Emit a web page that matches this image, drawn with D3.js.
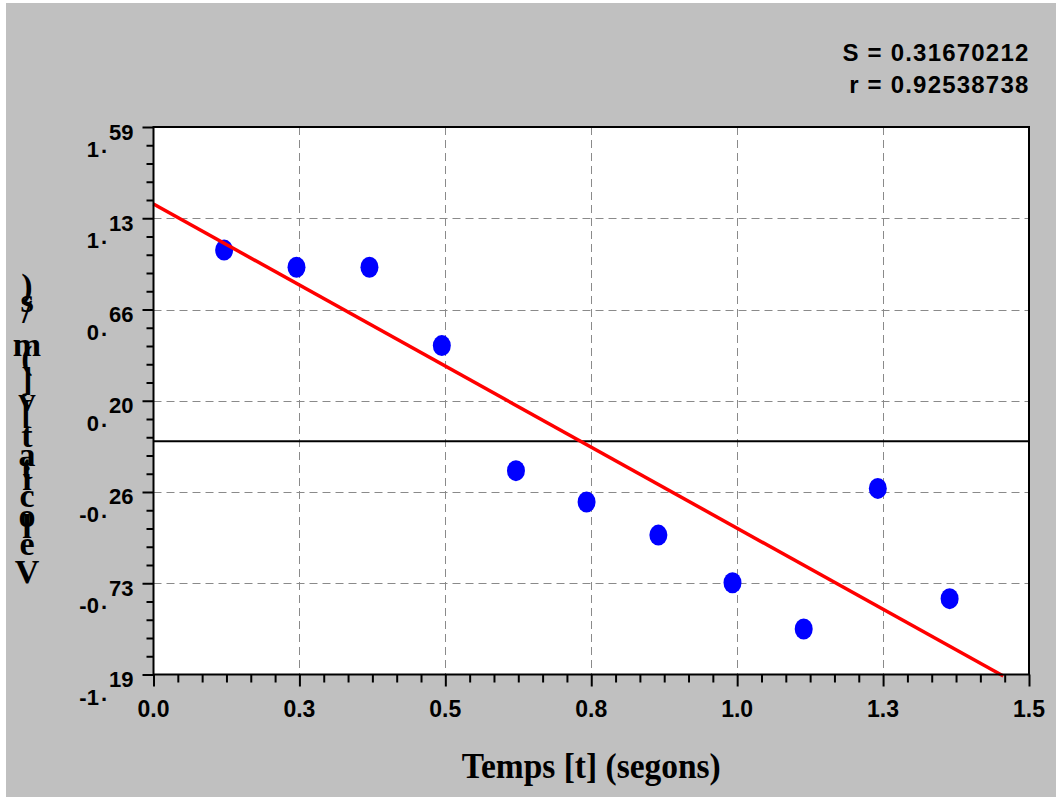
<!DOCTYPE html>
<html>
<head>
<meta charset="utf-8">
<script src="https://cdn.jsdelivr.net/npm/d3@7"></script>
<style>
  html, body { margin: 0; padding: 0; background: #ffffff; }
  svg { display: block; }
</style>
</head>
<body>
<svg id="chart" width="1056" height="797"></svg>
<script>
// ---------------- data ----------------
const xValues = [0.121, 0.245, 0.370, 0.494, 0.621, 0.742, 0.865, 0.992, 1.114, 1.241, 1.364];
const yValues = [0.965, 0.878, 0.878, 0.480, -0.155, -0.314, -0.482, -0.724, -0.959, -0.245, -0.805];
const fitX = [0, 1.456];
const fitY = [1.199, -1.198];
const xTickValues = [0, 0.25, 0.5, 0.75, 1.0, 1.25, 1.5];
const xTickLabels = ["0.0", "0.3", "0.5", "0.8", "1.0", "1.3", "1.5"];
const yTickValues = [1.59, 1.1267, 0.6633, 0.20, -0.2633, -0.7267, -1.19];
const yTickLabels = ["1.59", "1.13", "0.66", "0.20", "-0.26", "-0.73", "-1.19"];
const statsLines = ["S = 0.31670212", "r = 0.92538738"];
const xTitle = "Temps [t] (segons)";
const yTitle = "Velocitat [v] (m/s)";

// ---------------- layout ----------------
const svg = d3.select("#chart");
const L = 153.5, R = 1029, T = 127, B = 674.5;
const x = d3.scaleLinear().domain([0, 1.5]).range([L, R]);
const y = d3.scaleLinear().domain([-1.19, 1.59]).range([B, T]);

// background
svg.append("rect").attr("x", 6).attr("y", 3).attr("width", 1050).attr("height", 794).attr("fill", "#c0c0c0");
// plot area
svg.append("rect").attr("x", L).attr("y", T).attr("width", R - L).attr("height", B - T)
  .attr("fill", "#ffffff");

// grid
const grid = svg.append("g").attr("stroke", "#8a8a8a").attr("stroke-width", 1).attr("stroke-dasharray", "8,5");
grid.selectAll("line.v").data(xTickValues.slice(1, -1)).join("line")
  .attr("x1", d => Math.round(x(d)) + 0.5).attr("x2", d => Math.round(x(d)) + 0.5)
  .attr("y1", T).attr("y2", B);
grid.selectAll("line.h").data(yTickValues.slice(1, -1)).join("line")
  .attr("y1", d => Math.round(y(d)) + 0.5).attr("y2", d => Math.round(y(d)) + 0.5)
  .attr("x1", L).attr("x2", R);

// zero line
svg.append("line").attr("x1", L).attr("x2", R).attr("y1", y(0) + 1).attr("y2", y(0) + 1)
  .attr("stroke", "#000").attr("stroke-width", 2);

// points
const pts = xValues.map((v, i) => ({ x: v, y: yValues[i] }));
svg.append("g").selectAll("ellipse").data(pts).join("ellipse")
  .attr("cx", d => x(d.x)).attr("cy", d => y(d.y))
  .attr("rx", 9).attr("ry", 10.5).attr("fill", "#0000ff");

// fit line
const fit = fitX.map((v, i) => ({ x: v, y: fitY[i] }));
svg.append("path").datum(fit)
  .attr("d", d3.line().x(d => x(d.x)).y(d => y(d.y)))
  .attr("fill", "none").attr("stroke", "#ff0000").attr("stroke-width", 3.5);

// border
svg.append("rect").attr("x", L).attr("y", T).attr("width", R - L).attr("height", B - T)
  .attr("fill", "none").attr("stroke", "#000").attr("stroke-width", 2);

// minor tick values
const yMinor = [];
for (let i = 0; i < yTickValues.length - 1; i++) {
  for (let k = 1; k < 5; k++) yMinor.push(yTickValues[i] + (yTickValues[i + 1] - yTickValues[i]) * k / 5);
}
const xMinor = [];
for (let i = 0; i < xTickValues.length - 1; i++) {
  for (let k = 1; k < 6; k++) xMinor.push(xTickValues[i] + (xTickValues[i + 1] - xTickValues[i]) * k / 6);
}

function styleAxis(g) {
  g.select(".domain").remove();
  g.selectAll(".tick line").attr("stroke", "#000").attr("stroke-width", 2);
  g.selectAll(".tick text").remove();
}
svg.append("g").attr("transform", `translate(${L},0)`)
  .call(d3.axisLeft(y).tickValues(yTickValues).tickSize(11).tickFormat("")).call(styleAxis);
svg.append("g").attr("transform", `translate(${L},0)`)
  .call(d3.axisLeft(y).tickValues(yMinor).tickSize(7).tickFormat("")).call(styleAxis);
svg.append("g").attr("transform", `translate(0,${B})`)
  .call(d3.axisBottom(x).tickValues(xTickValues).tickSize(12).tickFormat("")).call(styleAxis);
svg.append("g").attr("transform", `translate(0,${B})`)
  .call(d3.axisBottom(x).tickValues(xMinor).tickSize(8).tickFormat("")).call(styleAxis);

// y tick labels (raised decimals), parts positioned explicitly
const yl = svg.append("g").attr("font-family", "Liberation Sans, Arial, sans-serif")
  .attr("font-weight", "bold").attr("font-size", 22).attr("fill", "#000");
yTickValues.forEach((v, i) => {
  const parts = yTickLabels[i].split(".");
  const ty = y(v);
  const decX = 133.5;
  const dec = yl.append("text").attr("x", decX).attr("y", ty + 12.5).attr("text-anchor", "end").text(parts[1]);
  const wDec = dec.node().getComputedTextLength();
  const dotEnd = decX - wDec - 2;
  const dot = yl.append("text").attr("x", dotEnd).attr("y", ty + 26).attr("text-anchor", "end").text(".");
  const wDot = dot.node().getComputedTextLength();
  yl.append("text").attr("x", dotEnd - wDot - 2).attr("y", ty + 30).attr("text-anchor", "end").text(parts[0]);
});

// x tick labels
svg.append("g").selectAll("text").data(xTickValues).join("text")
  .attr("x", d => x(d)).attr("y", 717).attr("text-anchor", "middle")
  .attr("font-family", "Liberation Sans, Arial, sans-serif").attr("font-weight", "bold")
  .attr("font-size", 23).text((d, i) => xTickLabels[i]);

// x title
svg.append("text").attr("x", (L + R) / 2).attr("y", 778).attr("text-anchor", "middle")
  .attr("font-family", "Liberation Serif, Times New Roman, serif").attr("font-weight", "bold")
  .attr("font-size", 35).attr("textLength", 259).attr("lengthAdjust", "spacingAndGlyphs")
  .text(xTitle);

// y title: upright glyphs stacked bottom-to-top, advancing by glyph width
const yt = svg.append("g").attr("font-family", "Liberation Serif, Times New Roman, serif")
  .attr("font-weight", "bold").attr("fill", "#000");
const meas = yt.append("text").attr("font-size", 39).attr("x", -500).attr("y", -500);
let pos = 583;
Array.from(yTitle).forEach(ch => {
  meas.text(ch === " " ? "\u00a0" : ch);
  const w = meas.node().getComputedTextLength();
  if (ch !== " ") {
    yt.append("text").attr("x", 27).attr("y", pos).attr("text-anchor", "middle")
      .attr("font-size", 34).text(ch);
  }
  pos -= w;
});
meas.remove();

// stats
svg.append("g").selectAll("text").data(statsLines).join("text")
  .attr("x", 1029.5).attr("y", (d, i) => 61 + i * 32).attr("text-anchor", "end")
  .attr("font-family", "Liberation Sans, Arial, sans-serif").attr("font-weight", "bold")
  .attr("font-size", 24).attr("letter-spacing", 1.2).text(d => d);
</script>
</body>
</html>
